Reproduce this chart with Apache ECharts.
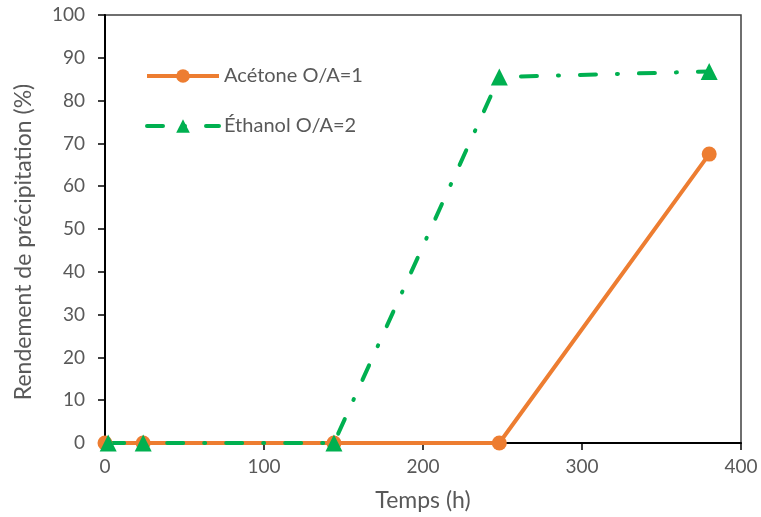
<!DOCTYPE html>
<html><head><meta charset="utf-8">
<script src="https://cdn.jsdelivr.net/npm/echarts@6/dist/echarts.min.js"></script>
<style>html,body{margin:0;padding:0;background:#fff}#c{width:761px;height:517px}</style>
</head><body><div id="c"></div>
<script>
const acetoneX = [0, 24, 144, 248, 380];
const acetoneY = [0, 0, 0, 0, 67.5];
const ethanolX = [2, 24, 144, 248, 380];
const ethanolY = [0, 0, 0, 85.5, 86.8];
const seriesNames = ['Acétone O/A=1', 'Éthanol O/A=2'];
const xTitle = 'Temps (h)';
const yTitle = 'Rendement de précipitation (%)';

const F = 'Lato, "Open Sans", sans-serif';
const chart = echarts.init(document.getElementById('c'));
const pair = (xs, ys) => xs.map((x, i) => [x, ys[i]]);
chart.setOption({
  animation: false,
  grid: {left: 105, right: 20, top: 15, bottom: 74, show: true, borderColor: '#404040', borderWidth: 1.5},
  legend: {
    orient: 'vertical', left: 140, top: 61, itemGap: 30, itemWidth: 72, itemHeight: 17,
    textStyle: {fontFamily: F, fontSize: 20, color: '#595959'},
    data: [
      {name: seriesNames[0], lineStyle: {width: 4}},
      {name: seriesNames[1], lineStyle: {width: 4}}
    ]
  },
  xAxis: {
    type: 'value', min: 0, max: 400, interval: 100,
    name: xTitle, nameLocation: 'middle', nameGap: 46,
    nameTextStyle: {fontFamily: F, fontSize: 23, color: '#595959'},
    axisLine: {show: true, onZero: false, lineStyle: {color: '#000', width: 2}},
    axisTick: {show: true, length: 7, lineStyle: {color: '#000', width: 1.5}},
    axisLabel: {fontFamily: F, fontSize: 19, color: '#595959', margin: 14},
    splitLine: {show: false}
  },
  yAxis: {
    type: 'value', min: 0, max: 100, interval: 10,
    name: yTitle, nameLocation: 'middle', nameGap: 70,
    nameTextStyle: {fontFamily: F, fontSize: 23, color: '#595959', padding: [0, 26, 0, 0]},
    axisLine: {show: true, lineStyle: {color: '#000', width: 2}},
    axisTick: {show: true, length: 7, lineStyle: {color: '#000', width: 1.5}},
    axisLabel: {fontFamily: F, fontSize: 19, color: '#595959', margin: 20},
    splitLine: {show: false}
  },
  series: [
    {
      name: seriesNames[0], type: 'line', data: pair(acetoneX, acetoneY),
      symbol: 'circle', symbolSize: 15,
      itemStyle: {color: '#ED7D31'},
      lineStyle: {color: '#ED7D31', width: 4}
    },
    {
      name: seriesNames[1], type: 'line', data: pair(ethanolX, ethanolY),
      symbol: 'triangle', symbolSize: 17,
      itemStyle: {color: '#00B050'},
      lineStyle: {color: '#00B050', width: 4, type: [16, 21, 1, 21], cap: 'round'}
    }
  ]
});
</script></body></html>
